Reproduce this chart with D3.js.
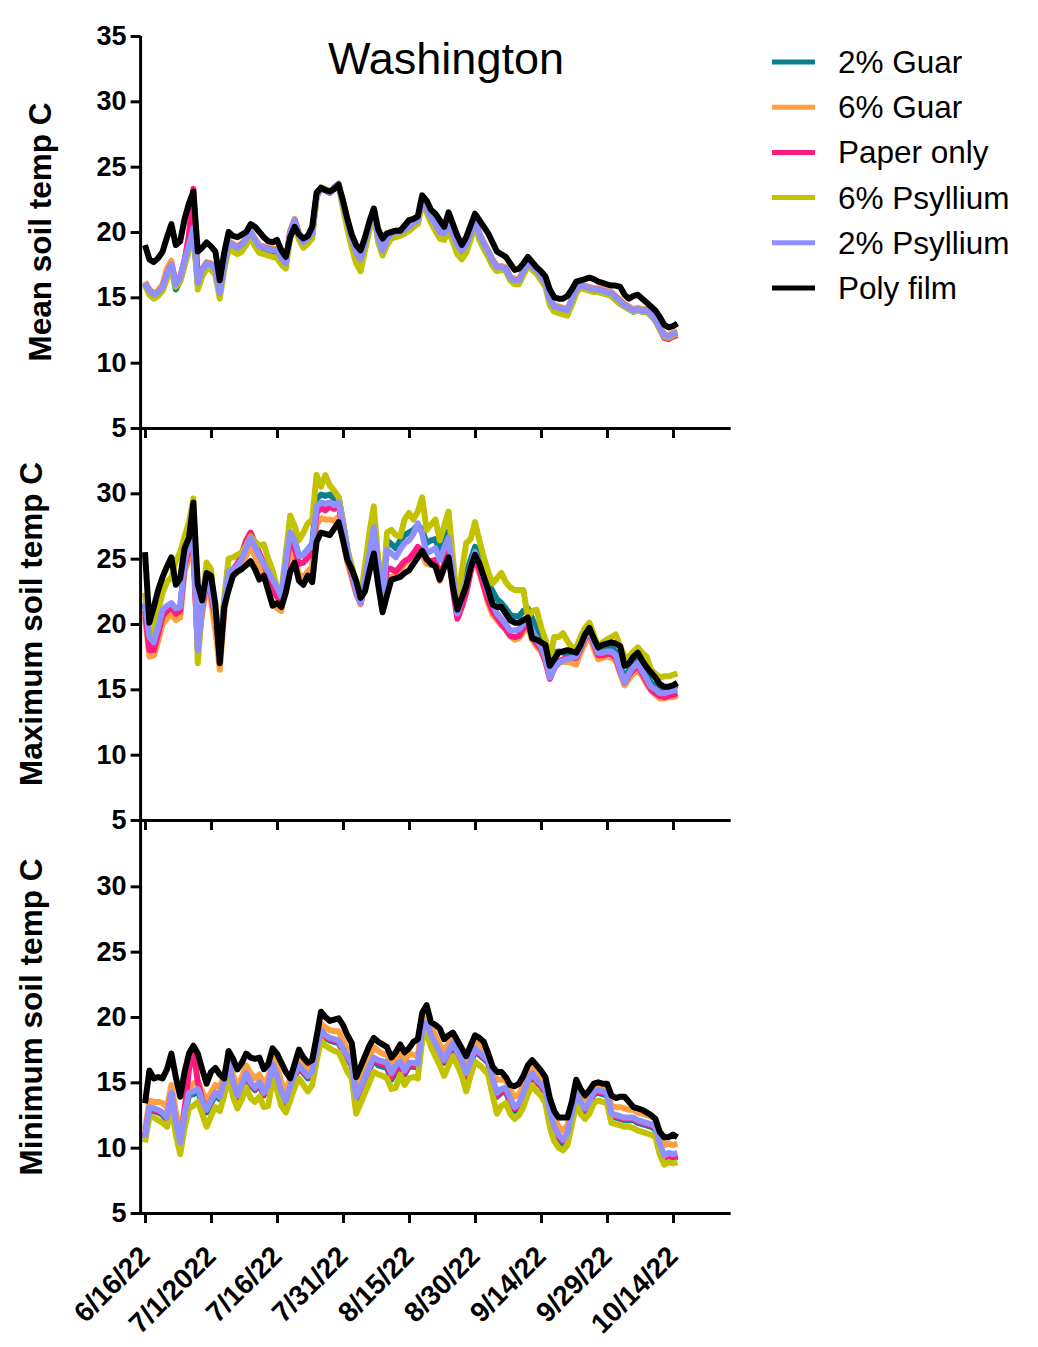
<!DOCTYPE html>
<html><head><meta charset="utf-8">
<script src="https://cdn.jsdelivr.net/npm/d3@7"></script>
<style>body{margin:0;background:#fff}svg{display:block}text{font-family:"Liberation Sans",Arial,sans-serif}</style>
</head><body><svg id="c" width="1038" height="1347"></svg>
<script>
// ---- categories ----
const seriesNames = ["2% Guar","6% Guar","Paper only","6% Psyllium","2% Psyllium","Poly film"];
const seriesColors = ["#0b7f8f","#ffa040","#ff1a7f","#c2c200","#8f8fff","#000000"];
const panelTitles = ["Mean soil temp C","Maximum soil temp C","Minimum soil temp C"];
const chartTitle = "Washington";
const startDate = new Date(2022,5,16);
const xTickDates = [new Date(2022,5,16),new Date(2022,6,1),new Date(2022,6,16),new Date(2022,6,31),new Date(2022,7,15),new Date(2022,7,30),new Date(2022,8,14),new Date(2022,8,29),new Date(2022,9,14)];
const xTickLabels = ["6/16/22","7/1/2022","7/16/22","7/31/22","8/15/22","8/30/22","9/14/22","9/29/22","10/14/22"];
const yTicksTop = [5,10,15,20,25,30,35];
const yTicksOther = [5,10,15,20,25,30];

// ---- MEAN (daily, 6/16 .. 10/15) ----
const mean2Guar = [16.0,15.4,15.1,15.3,15.7,16.6,17.3,15.6,16.3,17.7, 18.9,20.2,16.0,17.0,17.5,17.4,17.0,15.3,17.4,19.1, 18.9,18.7,18.9,19.4,19.9,19.3,18.8,18.7,18.6,18.5, 18.5,17.9,17.6,19.9,20.8,19.7,19.1,19.4,19.8,22.8, 23.3,23.2,23.0,23.4,23.7,22.2,20.7,19.4,18.3,17.8, 19.1,20.4,21.7,19.5,18.5,19.3,19.8,19.9,19.9,20.1, 20.3,20.6,20.8,22.4,21.8,21.0,20.5,19.9,19.8,20.5, 19.7,18.9,18.5,18.9,19.8,20.7,19.7,19.0,18.4,17.7, 17.2,17.2,17.1,16.4,16.1,16.2,16.9,17.5,17.2,17.0, 16.5,16.0,14.7,14.2,14.1,14.0,13.9,14.7,15.5,15.8, 15.7,15.6,15.5,15.5,15.4,15.3,15.1,14.8,14.5,14.3, 14.1,13.9,14.0,13.9,13.9,13.6,13.2,12.6,12.0,11.9, 12.1,12.2];
const mean6Guar = [16.2,15.6,15.3,15.5,16.0,17.2,17.8,16.1,16.6,17.9, 19.1,20.3,16.2,17.2,17.7,17.6,17.2,15.4,17.6,19.3, 19.1,18.9,19.1,19.6,20.1,19.5,19.0,18.9,18.8,18.7, 18.7,18.1,17.7,20.1,21.0,19.9,19.3,19.6,20.0,22.9, 23.3,23.2,23.0,23.3,23.6,22.3,20.9,19.6,18.5,18.0, 19.3,20.6,21.8,19.7,18.7,19.5,20.0,20.1,20.1,20.3, 20.5,20.8,21.0,22.6,22.0,21.2,20.7,20.1,20.0,20.7, 19.9,19.1,18.7,19.1,20.0,20.9,19.9,19.2,18.6,17.9, 17.4,17.4,17.3,16.6,16.4,16.4,17.1,17.7,17.4,17.2, 16.7,16.2,14.9,14.4,14.3,14.2,14.1,14.9,15.7,16.0, 15.9,15.8,15.7,15.7,15.6,15.5,15.4,15.1,14.8,14.5, 14.3,14.1,14.2,14.1,14.1,13.8,13.4,12.8,12.2,12.1, 12.3,12.4];
const meanPaper = [16.1,15.5,15.2,15.4,15.8,16.8,17.5,16.0,16.5,17.8, 19.8,23.3,16.3,17.1,17.6,17.5,17.1,15.3,17.5,19.2, 19.0,18.8,19.1,19.3,19.9,19.3,18.9,18.8,18.7,18.6, 18.6,18.0,17.6,20.0,20.9,19.8,19.2,19.5,19.9,22.8, 23.3,23.2,23.0,23.3,23.6,22.2,20.8,19.5,18.4,17.9, 19.2,20.5,21.7,19.6,18.6,19.4,19.8,19.8,19.8,19.9, 20.1,20.4,20.7,22.4,21.9,21.1,20.6,20.0,19.9,20.6, 19.8,19.0,18.6,19.0,19.9,20.8,19.8,19.1,18.5,17.8, 17.3,17.3,17.2,16.5,16.3,16.3,17.0,17.6,17.3,17.1, 16.6,16.1,14.8,14.3,14.2,14.1,14.0,14.8,15.6,15.9, 15.8,15.7,15.6,15.6,15.5,15.4,15.3,15.0,14.7,14.4, 14.2,14.0,14.1,14.0,14.0,13.7,13.3,12.6,11.9,11.8, 12.0,12.1];
const mean6Psyl = [15.9,15.2,14.9,15.1,15.5,16.4,17.2,15.8,16.2,17.4, 18.6,20.0,15.6,16.6,17.2,17.1,16.7,14.9,17.1,18.7, 18.5,18.3,18.5,19.0,19.6,18.9,18.4,18.3,18.2,18.1, 18.0,17.5,17.2,19.6,20.5,19.4,18.8,19.1,19.5,22.6, 23.4,23.3,23.1,23.3,23.5,21.8,20.2,18.8,17.6,17.0, 18.6,20.1,21.5,19.2,18.2,19.0,19.5,19.6,19.7,19.9, 20.1,20.4,20.6,22.3,21.5,20.7,20.1,19.5,19.4,20.1, 19.2,18.3,17.9,18.4,19.4,20.5,19.4,18.7,18.1,17.4, 17.0,17.1,17.0,16.3,16.0,16.0,16.7,17.4,17.1,16.8, 16.3,15.8,14.4,13.9,13.8,13.7,13.6,14.4,15.3,15.7, 15.6,15.5,15.4,15.4,15.3,15.2,15.1,14.8,14.5,14.3, 14.1,13.9,14.0,13.9,13.9,13.6,13.2,12.6,12.0,11.9, 12.1,12.2];
const mean2Psyl = [16.1,15.5,15.2,15.4,15.8,16.8,17.5,16.0,16.5,17.8, 19.0,20.3,16.1,17.1,17.6,17.5,17.1,15.3,17.5,19.2, 19.0,18.8,19.0,19.5,20.0,19.4,18.9,18.8,18.7,18.6, 18.6,18.0,17.6,20.0,20.9,19.8,19.2,19.5,19.9,22.8, 23.3,23.2,23.0,23.3,23.6,22.2,20.8,19.5,18.4,17.9, 19.2,20.5,21.7,19.6,18.6,19.4,19.9,20.0,20.0,20.2, 20.4,20.7,20.9,22.5,21.9,21.1,20.6,20.0,19.9,20.6, 19.8,19.0,18.6,19.0,19.9,20.8,19.8,19.1,18.5,17.8, 17.3,17.3,17.2,16.5,16.3,16.3,17.0,17.6,17.3,17.1, 16.6,16.1,14.8,14.3,14.2,14.1,14.0,14.8,15.6,15.9, 15.8,15.7,15.6,15.6,15.5,15.4,15.3,15.0,14.7,14.4, 14.2,14.0,14.1,14.0,14.0,13.7,13.3,12.7,12.1,12.0, 12.2,12.3];
const meanPoly = [19.0,17.9,17.7,18.0,18.5,19.6,20.6,19.0,19.3,21.0, 22.2,23.1,18.5,18.8,19.2,18.9,18.5,16.3,18.4,20.0, 19.7,19.6,19.8,20.0,20.6,20.4,20.0,19.6,19.3,19.2, 19.4,18.6,18.1,19.6,20.4,19.8,19.5,19.7,20.4,23.0, 23.4,23.2,23.1,23.3,23.6,22.4,21.0,19.8,19.0,18.6, 19.6,20.8,21.8,20.2,19.5,19.9,20.0,20.1,20.1,20.5, 20.9,21.0,21.2,22.8,22.4,21.7,21.4,20.9,20.4,21.5, 20.6,19.7,19.0,19.6,20.5,21.4,20.9,20.4,19.9,19.2, 18.5,18.3,18.1,17.6,17.1,17.2,17.6,18.1,17.7,17.3, 17.0,16.6,15.6,15.0,14.9,14.9,15.1,15.6,16.2,16.3, 16.4,16.5,16.4,16.2,16.1,16.0,15.9,15.9,15.8,15.2, 14.9,15.1,15.2,14.9,14.6,14.3,14.0,13.5,12.9,12.7, 12.8,13.0];

// ---- MAXIMUM ----
const max2Guar = [21.5,18.7,18.3,19.6,20.9,21.2,21.4,21.0,21.2,24.6, 25.9,26.3,18.5,21.4,23.4,22.2,20.8,18.1,21.4,23.8, 24.0,24.2,24.8,25.5,26.3,25.7,25.0,24.4,23.8,23.2, 22.6,22.0,24.7,27.0,26.4,25.2,25.3,25.7,26.1,29.6, 29.9,29.8,29.9,29.6,29.7,27.8,25.7,24.1,22.5,21.6, 23.5,25.5,27.5,24.8,21.9,26.4,26.1,25.8,26.4,26.8, 27.0,27.2,27.6,27.2,26.2,26.4,26.5,25.6,26.4,27.1, 24.2,21.2,22.5,23.8,24.9,25.9,25.2,24.1,23.1,22.5, 21.9,21.6,21.2,20.7,20.6,20.6,21.0,21.2,20.4,19.6, 19.2,18.3,16.6,17.8,17.9,17.8,17.7,17.7,17.8,18.5, 19.3,19.8,18.9,18.1,18.1,18.2,18.2,17.9,16.8,15.8, 16.5,17.0,17.3,16.7,16.1,15.5,15.3,15.0,15.0,15.1, 15.2,15.3];
const max6Guar = [20.5,17.5,17.6,18.7,20.0,20.4,20.8,20.3,20.5,24.0, 25.1,25.3,18.2,20.8,23.0,21.8,19.5,16.5,20.8,23.4, 23.8,24.0,24.5,25.2,25.9,25.2,24.5,23.8,22.5,21.6, 21.2,21.0,23.5,25.8,25.0,23.8,23.6,24.0,24.4,27.6, 28.1,28.0,28.0,27.9,28.2,26.5,24.7,23.5,22.3,21.5, 23.0,24.6,26.3,23.6,21.2,23.6,23.6,23.7,24.1,24.6, 24.9,25.2,25.6,25.3,24.6,24.5,24.5,23.3,24.4,25.2, 22.9,20.9,21.7,22.6,24.0,25.0,23.9,22.8,21.6,20.7, 20.3,19.9,19.6,19.1,18.8,18.9,19.4,19.8,18.8,18.3, 17.9,17.1,15.9,16.7,17.0,17.1,17.1,17.0,16.9,17.8, 18.5,19.1,18.1,17.3,17.4,17.5,17.4,17.2,16.2,15.3, 15.8,16.2,16.5,16.0,15.4,14.9,14.6,14.3,14.3,14.4, 14.4,14.5];
const maxPaper = [21.0,18.0,18.0,19.3,20.6,21.0,21.3,20.8,21.0,24.5, 25.7,26.0,18.0,21.2,23.4,22.3,20.5,17.5,21.3,23.8, 24.2,24.6,25.4,26.4,27.0,26.2,25.4,24.7,23.6,22.6, 22.1,21.6,24.3,26.5,25.8,24.6,24.7,25.1,25.4,28.5, 28.9,28.7,29.0,28.8,29.1,27.2,25.2,23.8,22.4,21.6, 23.2,25.1,27.0,24.0,21.5,24.3,24.2,24.0,24.4,24.8, 25.0,25.4,25.9,25.6,24.9,24.8,24.9,23.6,24.6,25.5, 22.6,20.4,21.3,22.4,24.0,25.2,24.1,22.9,21.8,21.0, 20.5,20.0,19.6,19.1,19.0,19.1,19.7,20.0,19.0,18.5, 18.1,17.2,15.8,16.6,17.1,17.3,17.4,17.4,17.4,18.1, 18.9,19.4,18.5,17.6,17.6,17.7,17.7,17.4,16.4,15.5, 16.1,16.5,16.8,16.2,15.6,15.0,14.7,14.5,14.4,14.5, 14.6,14.7];
const max6Psyl = [22.4,19.2,19.5,21.0,22.4,23.2,23.6,24.8,25.5,26.7, 27.8,29.6,17.0,21.5,24.7,24.2,20.5,18.2,22.0,25.0, 25.1,25.3,25.5,26.0,26.7,26.3,26.0,26.1,25.0,24.1, 22.8,22.4,25.4,28.3,27.5,26.4,27.0,27.7,28.0,31.4, 30.5,31.4,30.6,30.2,29.7,27.8,25.7,24.5,23.0,22.1, 24.5,27.0,29.0,25.0,21.8,27.0,27.2,26.8,26.7,28.0, 28.5,28.0,28.6,29.7,27.2,27.6,28.0,26.4,27.5,28.6, 25.0,21.3,24.0,26.2,26.5,27.8,26.4,25.1,24.0,23.1, 23.5,23.9,23.2,22.8,22.6,22.6,22.6,20.5,21.0,21.1, 19.8,18.8,17.2,19.0,19.0,19.3,18.7,18.2,18.2,19.0, 19.7,20.1,19.2,18.2,18.6,18.8,19.0,19.2,18.3,17.5, 17.5,17.9,18.2,17.8,17.5,16.5,16.2,15.9,16.0,16.0, 16.1,16.2];
const max2Psyl = [21.6,19.0,18.6,19.8,21.1,21.4,21.6,21.2,21.3,24.8, 26.0,26.4,18.0,21.5,23.6,22.4,21.0,18.2,21.6,24.0, 24.2,24.4,25.0,25.8,26.6,25.9,25.2,24.6,24.0,23.4, 22.8,22.1,24.8,27.0,26.4,25.2,25.3,25.7,26.0,29.0, 29.3,29.2,29.3,29.1,29.3,27.6,25.6,24.0,22.5,21.6, 23.4,25.4,27.4,24.6,21.8,25.7,25.4,25.1,25.7,26.2, 26.4,26.9,27.7,26.9,25.4,25.6,25.8,24.9,25.8,26.6, 23.7,20.8,22.0,23.3,24.4,25.5,24.6,23.5,22.4,21.6, 20.8,20.4,20.0,19.5,19.5,19.6,20.0,20.3,19.5,18.8, 18.3,17.4,15.9,16.6,17.0,17.2,17.3,17.4,17.5,18.2, 19.0,19.5,18.6,17.8,17.8,17.9,17.9,17.6,16.5,15.5, 16.2,16.7,17.0,16.4,15.8,15.2,15.0,14.7,14.7,14.8, 14.9,15.0];
const maxPoly = [25.5,20.1,21.3,22.6,23.6,24.4,25.1,23.0,23.5,25.8, 26.6,29.3,23.0,21.8,23.9,23.7,21.5,17.0,21.3,22.6, 23.7,24.0,24.2,24.5,24.8,24.2,23.4,23.7,22.6,21.4, 21.6,21.3,22.4,24.0,24.7,23.3,23.0,23.7,23.2,26.3, 27.0,26.9,26.8,27.3,27.8,26.4,24.9,24.2,23.3,22.0, 22.5,24.0,25.4,23.0,20.9,22.2,23.4,23.5,23.6,23.9, 24.1,24.6,25.1,25.6,25.0,24.6,24.4,23.4,24.3,25.1, 22.8,21.1,22.0,22.9,24.3,25.3,24.6,23.6,22.6,21.5, 21.3,21.3,20.8,20.3,20.1,20.1,20.3,20.5,18.9,18.8, 18.6,18.4,16.8,17.3,17.8,17.9,18.0,17.9,17.8,18.4, 19.2,19.7,18.9,18.2,18.4,18.5,18.6,18.5,18.3,16.8, 17.0,17.5,17.8,17.2,16.7,16.3,15.9,15.4,15.2,15.2, 15.3,15.5];

// ---- MINIMUM ----
const min2Guar = [10.7,12.9,12.8,12.7,12.5,12.1,14.0,11.8,10.2,12.4, 14.0,14.1,14.3,13.4,12.7,13.4,14.0,13.7,14.8,16.3, 14.8,13.8,14.6,15.5,14.8,14.4,14.8,14.0,14.5,16.2, 15.3,14.1,13.4,14.5,15.4,16.1,15.7,15.3,15.6,17.3, 18.8,18.4,18.2,18.1,18.0,17.4,16.8,16.3,13.7,14.4, 15.2,16.0,16.7,16.3,16.2,16.1,15.2,15.8,16.3,15.6, 16.2,16.2,16.1,18.8,19.4,18.4,17.8,17.1,16.5,17.2, 17.8,17.0,16.3,15.4,16.4,17.4,17.1,16.8,16.5,15.0, 13.9,14.2,14.3,13.4,12.8,13.1,13.9,14.9,15.5,15.0, 14.7,14.1,12.4,11.1,10.6,10.3,10.8,12.3,14.0,13.3, 12.8,13.3,14.1,14.2,14.1,14.0,12.4,12.3,12.2,12.1, 12.1,12.1,11.9,11.8,11.7,11.6,11.4,10.1,9.3,9.4, 9.3,9.4];
const min6Guar = [11.3,13.6,13.5,13.5,13.4,13.1,14.8,12.8,11.0,13.1, 14.6,14.9,15.1,14.3,13.6,14.2,14.8,14.6,15.6,17.0, 15.6,14.6,15.4,16.3,15.7,15.3,15.6,14.9,15.4,17.0, 16.2,15.0,14.3,15.3,16.3,17.0,16.5,16.1,16.4,18.1, 19.5,19.2,19.0,18.9,18.9,18.2,17.6,17.1,14.4,15.2, 16.0,16.9,17.7,17.4,17.2,17.1,16.3,16.9,17.3,16.6, 17.2,17.1,17.0,19.6,20.1,19.2,18.6,17.9,17.4,18.0, 18.5,17.9,17.3,16.4,17.2,18.1,17.9,17.6,17.3,16.1, 15.2,15.2,15.2,14.4,13.9,14.1,14.8,15.6,16.1,15.7, 15.4,15.0,13.4,12.3,11.6,11.3,11.7,13.2,14.7,14.1, 13.7,14.1,14.7,14.7,14.6,14.5,13.2,13.1,13.1,13.0, 12.9,12.9,12.7,12.6,12.5,12.4,12.2,11.0,10.2,10.3, 10.2,10.3];
const minPaper = [10.9,13.0,12.9,12.8,12.6,12.2,14.1,11.9,10.3,12.8, 16.0,17.5,15.0,13.7,12.9,13.6,14.2,13.9,15.0,16.4, 14.9,13.9,14.7,15.6,14.9,14.5,14.9,14.1,14.7,16.3, 15.4,14.2,13.5,14.6,15.5,16.2,15.8,15.4,15.7,17.4, 18.9,18.5,18.3,18.2,18.1,17.5,16.9,16.4,13.8,14.5, 15.3,16.1,16.8,16.5,16.4,16.3,15.4,16.0,16.4,15.7, 16.3,16.3,16.2,18.9,19.5,18.5,17.9,17.2,16.6,17.3, 17.9,17.1,16.5,15.5,16.5,17.5,17.2,16.9,16.6,15.1, 14.0,14.3,14.4,13.5,13.0,13.2,14.0,15.0,15.6,15.1, 14.8,14.2,12.6,11.3,10.8,10.5,11.0,12.4,14.1,13.4, 12.9,13.4,14.2,14.3,14.2,14.1,12.5,12.4,12.3,12.2, 12.2,12.2,12.0,11.9,11.8,11.7,11.5,10.1,9.2,9.3, 9.2,9.3];
const min6Psyl = [10.4,12.4,12.3,12.1,11.9,11.6,13.2,11.0,9.5,11.5, 13.0,13.2,13.5,12.6,11.6,12.4,13.1,12.8,14.0,15.4, 13.9,13.0,13.7,14.6,13.8,13.5,13.9,13.1,13.2,15.3, 14.4,13.2,12.7,13.6,14.6,15.3,14.8,14.3,14.8,16.6, 18.2,17.8,17.6,17.4,17.3,16.6,15.8,15.3,12.6,13.4, 14.2,15.0,15.8,15.6,15.5,15.3,14.5,14.6,15.6,14.8, 15.3,15.4,15.3,18.2,18.8,17.7,17.0,16.3,15.5,16.3, 17.0,16.3,15.5,14.3,15.5,16.6,16.3,16.0,15.6,14.0, 12.6,13.2,13.4,12.6,12.2,12.5,13.1,14.1,14.8,14.3, 14.0,13.4,11.6,10.5,10.0,9.8,10.2,11.7,13.4,12.6, 12.2,12.6,13.4,13.6,13.5,13.4,11.9,11.8,11.7,11.6, 11.6,11.5,11.3,11.2,11.1,11.0,10.8,9.5,8.7,8.9, 8.8,8.9];
const min2Psyl = [10.8,13.1,13.0,12.9,12.7,12.3,14.2,12.0,10.4,12.6, 14.2,14.3,14.5,13.6,12.9,13.6,14.2,13.9,15.0,16.5, 15.0,14.0,14.8,15.7,15.0,14.6,15.0,14.2,14.8,16.4, 15.5,14.3,13.6,14.7,15.6,16.3,15.9,15.5,15.8,17.5, 19.0,18.6,18.4,18.3,18.2,17.6,17.0,16.5,13.9,14.6, 15.4,16.2,16.9,16.7,16.6,16.5,15.7,16.3,16.6,15.9, 16.5,16.5,16.4,19.0,19.6,18.6,18.0,17.3,16.7,17.4, 18.0,17.3,16.7,15.7,16.6,17.6,17.3,17.0,16.7,15.3, 14.2,14.5,14.6,13.8,13.1,13.4,14.2,15.1,15.7,15.2, 14.9,14.4,12.8,11.6,11.0,10.6,11.1,12.6,14.2,13.5, 13.0,13.5,14.3,14.4,14.3,14.2,12.6,12.5,12.4,12.3, 12.3,12.3,12.1,12.0,11.9,11.8,11.6,10.3,9.4,9.6, 9.5,9.6];
const minPoly = [13.4,15.9,15.3,15.4,15.3,16.0,17.2,15.4,13.9,15.8, 17.2,17.8,17.2,16.0,14.9,15.8,16.1,15.6,15.3,17.4, 16.8,16.0,16.5,17.2,16.9,16.8,16.9,16.0,16.4,17.6, 17.2,16.5,15.8,15.3,16.4,17.5,16.9,16.5,16.7,18.5, 20.4,20.0,19.7,19.8,19.9,19.4,18.6,18.0,15.4,16.2, 17.0,17.8,18.4,18.1,17.9,17.7,16.9,17.3,17.9,17.3, 17.6,18.1,18.3,20.3,20.9,19.6,19.4,19.1,18.3,18.6, 18.8,18.2,17.6,17.0,17.8,18.6,18.4,18.1,17.2,16.2, 15.8,15.8,15.4,14.8,14.7,14.9,15.5,16.3,16.7,16.3, 15.9,15.4,13.8,12.8,12.3,12.3,12.3,13.5,15.2,14.5, 14.0,14.4,14.9,15.0,14.9,14.9,14.0,13.8,13.9,13.9, 13.5,13.1,13.0,12.9,12.7,12.5,12.2,11.2,10.8,10.8, 11.0,10.8];

const meanSeries = [mean2Guar,mean6Guar,meanPaper,mean6Psyl,mean2Psyl,meanPoly];
const maxSeries = [max2Guar,max6Guar,maxPaper,max6Psyl,max2Psyl,maxPoly];
const minSeries = [min2Guar,min6Guar,minPaper,min6Psyl,min2Psyl,minPoly];

// ---- drawing ----
const svg = d3.select("#c");
const x = d3.scaleTime().domain([new Date(2022,5,15), new Date(2022,9,27)]).range([140.6, 730.2]);
const dayOf = i => d3.timeDay.offset(startDate, i);
const FONT = "'Liberation Sans',Arial,sans-serif";

const panels = [
  {top:36, bottom:428, ticks:yTicksTop, data:meanSeries, title:panelTitles[0], tx:40},
  {top:428, bottom:820, ticks:yTicksOther, data:maxSeries, title:panelTitles[1], tx:31},
  {top:821, bottom:1213, ticks:yTicksOther, data:minSeries, title:panelTitles[2], tx:31}
];

panels.forEach((p, pi) => {
  const y = d3.scaleLinear().domain([5,35]).range([p.bottom, p.top]);
  const g = svg.append("g");
  const line = d3.line().x((v,i)=>x(dayOf(i))).y(v=>y(v));
  p.data.forEach((vals, si) => {
    g.append("path").datum(vals).attr("d", line)
      .attr("fill","none").attr("stroke", seriesColors[si])
      .attr("stroke-width", 6).attr("stroke-linejoin","round");
  });
  // y axis
  const ya = g.append("g").attr("transform","translate(140.6,0)")
    .call(d3.axisLeft(y).tickValues(p.ticks).tickSize(10).tickSizeOuter(0).tickPadding(4).tickFormat(d3.format("d")));
  ya.select(".domain").attr("stroke-width",3).attr("d", `M0,${y(35)}V${p.bottom+1.5}`);
  ya.selectAll(".tick line").attr("stroke-width",3);
  ya.selectAll(".tick text").attr("font-size",27).attr("font-weight","bold").attr("fill","#000")
    .attr("font-family",FONT);
  // x axis
  const xa = g.append("g").attr("transform",`translate(0,${p.bottom})`)
    .call(d3.axisBottom(x).tickValues(xTickDates).tickSize(10).tickSizeOuter(0)
      .tickFormat((d,i)=> pi===2 ? xTickLabels[i] : ""));
  xa.select(".domain").attr("stroke-width",3);
  xa.selectAll(".tick line").attr("stroke-width",3);
  if (pi === 2) {
    xa.selectAll(".tick text")
      .attr("font-size",28).attr("font-weight","bold").attr("fill","#000")
      .attr("font-family",FONT)
      .attr("text-anchor","end").attr("dy",null).attr("y",null)
      .attr("transform","translate(6,45) rotate(-45)");
  }
  // axis title
  svg.append("text").attr("transform",`translate(${p.tx},${(p.top+p.bottom)/2}) rotate(-90)`)
    .attr("text-anchor","middle").attr("dominant-baseline","central")
    .attr("font-size",31.5).attr("font-weight","bold").text(p.title);
});

svg.append("text").attr("x",446).attr("y",74).attr("text-anchor","middle")
  .attr("font-family","Lato,'Open Sans',sans-serif").attr("font-size",45).text(chartTitle);

const leg = svg.append("g");
seriesNames.forEach((n,i)=>{
  const yy = 62 + i*45.2;
  leg.append("line").attr("x1",772).attr("x2",815).attr("y1",yy).attr("y2",yy)
    .attr("stroke",seriesColors[i]).attr("stroke-width",5);
  leg.append("text").attr("x",838).attr("y",yy).attr("dominant-baseline","central")
    .attr("font-size",31.5).text(n);
});
</script></body></html>
